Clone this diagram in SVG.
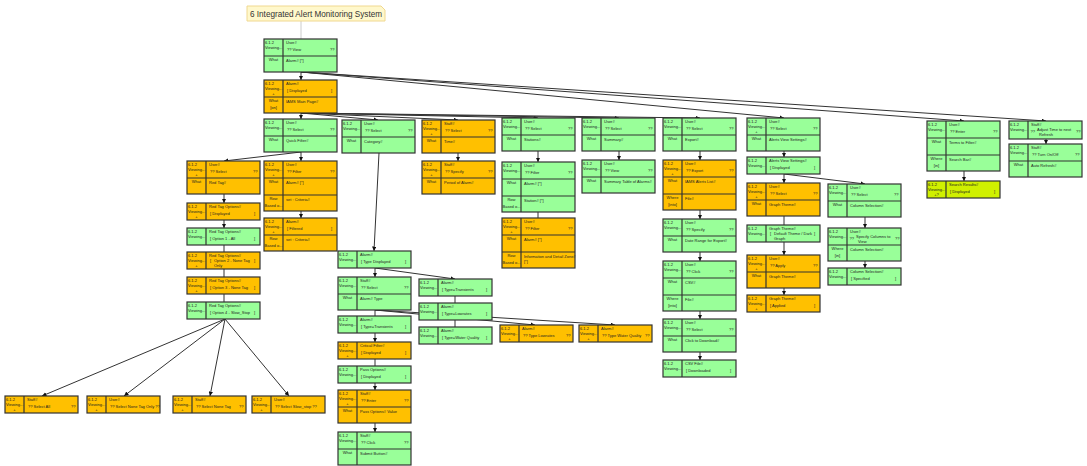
<svg xmlns="http://www.w3.org/2000/svg" xmlns:xlink="http://www.w3.org/1999/xlink" width="1087" height="466" viewBox="0 0 1087 466">
<style>
.t{font-family:"Liberation Sans",Arial,sans-serif;font-size:4px;fill:#222}
.c{text-anchor:middle}
.e{fill:none;stroke:#333;stroke-width:1}
.ea{fill:none;stroke:#333;stroke-width:1;marker-end:url(#a)}
.g{fill:#99ff99}
.o{fill:#ffc000}
.y{fill:#d0f000}
.fr{stroke:#333;stroke-width:1.2}
</style>
<defs>
<marker id="a" viewBox="0 0 6 6" refX="6" refY="3" markerWidth="4.5" markerHeight="4.5" orient="auto"><path d="M0,0L6,3L0,6z" fill="#111"/></marker>
<g id="f1"><rect class="fr" width="73" height="17"/><line class="fr" x1="19" y1="0" x2="19" y2="17"/></g>
<g id="f1b"><rect class="fr" width="73" height="18"/><line class="fr" x1="19" y1="0" x2="19" y2="18"/></g>
<g id="f2"><rect class="fr" width="73" height="33"/><line class="fr" x1="19" y1="0" x2="19" y2="33"/><line class="fr" x1="0" y1="17" x2="73" y2="17"/></g>
<g id="f3"><rect class="fr" width="73" height="50"/><line class="fr" x1="19" y1="0" x2="19" y2="50"/><line class="fr" x1="0" y1="17" x2="73" y2="17"/><line class="fr" x1="0" y1="34" x2="73" y2="34"/></g>
<g id="L"><text class="t" x="1" y="5">6.1.2</text><text class="t" x="1" y="10">Viewing...</text></g>
<g id="P"><text class="t c" x="9.5" y="15">+</text></g>
<g id="W"><text class="t c" x="9.5" y="22">What</text></g>
</defs>

<g id="connectors">
<line x1="301" y1="21" x2="301" y2="39" stroke="#ccc" stroke-width="1"/>
<line class="ea" x1="301" y1="71" x2="301" y2="80"/>
<line class="ea" x1="301" y1="72" x2="784" y2="118"/>
<line class="ea" x1="301" y1="72" x2="964" y2="121"/>
<line class="ea" x1="301" y1="72" x2="1046" y2="121"/>
<line class="ea" x1="301" y1="113" x2="301" y2="119"/>
<line class="ea" x1="301" y1="113" x2="378" y2="120"/>
<line class="ea" x1="301" y1="113" x2="458" y2="120"/>
<line class="ea" x1="301" y1="113" x2="538" y2="118"/>
<line class="ea" x1="301" y1="113" x2="619" y2="118"/>
<line class="ea" x1="301" y1="113" x2="700" y2="118"/>
<line class="ea" x1="301" y1="152" x2="224" y2="161"/>
<line class="ea" x1="301" y1="152" x2="301" y2="161"/>
<line class="ea" x1="224" y1="194" x2="224" y2="203"/>
<line class="ea" x1="224" y1="220" x2="224" y2="228"/>
<line class="e" x1="224" y1="245" x2="224" y2="252"/>
<line class="e" x1="224" y1="269" x2="224" y2="277"/>
<line class="e" x1="224" y1="294" x2="224" y2="302"/>
<line class="ea" x1="225" y1="319" x2="42" y2="396"/>
<line class="ea" x1="225" y1="319" x2="124" y2="396"/>
<line class="ea" x1="225" y1="319" x2="210" y2="396"/>
<line class="ea" x1="225" y1="319" x2="289" y2="396"/>
<line class="ea" x1="301" y1="211" x2="301" y2="218"/>
<line class="ea" x1="379" y1="153" x2="374" y2="251"/>
<line class="ea" x1="458" y1="153" x2="458" y2="161"/>
<line class="ea" x1="538" y1="151" x2="538" y2="162"/>
<line class="e" x1="538" y1="212" x2="538" y2="218"/>
<line class="ea" x1="619" y1="151" x2="619" y2="160"/>
<line class="ea" x1="700" y1="151" x2="700" y2="160"/>
<line class="ea" x1="700" y1="210" x2="700" y2="219"/>
<line class="ea" x1="700" y1="252" x2="700" y2="261"/>
<line class="ea" x1="700" y1="311" x2="700" y2="319"/>
<line class="ea" x1="700" y1="352" x2="700" y2="360"/>
<line class="ea" x1="784" y1="151" x2="784" y2="157"/>
<line class="ea" x1="784" y1="174" x2="784" y2="183"/>
<line class="ea" x1="784" y1="174" x2="865" y2="184"/>
<line class="e" x1="784" y1="216" x2="784" y2="225"/>
<line class="ea" x1="784" y1="242" x2="784" y2="255"/>
<line class="ea" x1="784" y1="288" x2="784" y2="295"/>
<line class="ea" x1="865" y1="217" x2="865" y2="228"/>
<line class="ea" x1="865" y1="261" x2="865" y2="268"/>
<line class="ea" x1="964" y1="171" x2="964" y2="181"/>
<line class="ea" x1="1046" y1="139" x2="1046" y2="144"/>
<line class="ea" x1="375" y1="268" x2="375" y2="277"/>
<line class="ea" x1="375" y1="268" x2="455" y2="279"/>
<line class="e" x1="455" y1="296" x2="455" y2="303"/>
<line class="e" x1="455" y1="320" x2="455" y2="327"/>
<line class="e" x1="375" y1="310" x2="375" y2="316"/>
<line class="ea" x1="375" y1="310" x2="535" y2="325"/>
<line class="ea" x1="375" y1="310" x2="615" y2="325"/>
<line class="ea" x1="375" y1="333" x2="375" y2="342"/>
<line class="e" x1="375" y1="359" x2="375" y2="366"/>
<line class="ea" x1="375" y1="383" x2="375" y2="390"/>
<line class="ea" x1="375" y1="423" x2="375" y2="432"/>
</g>

<g id="title">
<path d="M247,6H381L385,10V21H247Z" fill="#fff8cc" stroke="#f0d890" stroke-width="1"/>
<text x="250" y="17" font-family="Liberation Sans,Arial,sans-serif" font-size="9" fill="#333" textLength="132" lengthAdjust="spacingAndGlyphs">6 Integrated Alert Monitoring System</text>
</g>

<g id="n1" transform="translate(264,39)"><use href="#f2" class="g"/><use href="#L"/><text class="t" x="22" y="5">User#</text><text class="t" x="23" y="12">?? View</text><text class="t" x="66" y="12">??</text><use href="#W"/><text class="t" x="22" y="23">Alarm# [*]</text></g>
<g id="n2" transform="translate(264,80)"><use href="#f2" class="o"/><use href="#L"/><use href="#P"/><text class="t" x="22" y="5">Alarm#</text><text class="t" x="23" y="12">[ Displayed</text><text class="t" x="67" y="12">]</text><use href="#W"/><text class="t c" x="9.5" y="29">[on]</text><text class="t" x="22" y="23">IAMS Main Page#</text></g>
<g id="qf" transform="translate(264,119)"><use href="#f2" class="g"/><use href="#L"/><text class="t" x="22" y="5">User#</text><text class="t" x="23" y="12">?? Select</text><text class="t" x="66" y="12">??</text><use href="#W"/><text class="t" x="22" y="23">Quick Filter#</text></g>
<g id="cat" transform="translate(342,120)"><use href="#f2" class="g"/><use href="#L"/><text class="t" x="22" y="5">User#</text><text class="t" x="23" y="12">?? Select</text><text class="t" x="66" y="12">??</text><use href="#W"/><text class="t" x="22" y="23">Category#</text></g>
<g id="time" transform="translate(422,120)"><use href="#f2" class="o"/><use href="#L"/><use href="#P"/><text class="t" x="22" y="5">Staff#</text><text class="t" x="23" y="12">?? Select</text><text class="t" x="66" y="12">??</text><use href="#W"/><text class="t" x="22" y="23">Time#</text></g>
<g id="st" transform="translate(502,118)"><use href="#f2" class="g"/><use href="#L"/><text class="t" x="22" y="5">User#</text><text class="t" x="23" y="12">?? Select</text><text class="t" x="66" y="12">??</text><use href="#W"/><text class="t" x="22" y="23">Stations#</text></g>
<g id="sum" transform="translate(582,118)"><use href="#f2" class="g"/><use href="#L"/><text class="t" x="22" y="5">User#</text><text class="t" x="23" y="12">?? Select</text><text class="t" x="66" y="12">??</text><use href="#W"/><text class="t" x="22" y="23">Summary#</text></g>
<g id="exp" transform="translate(663,118)"><use href="#f2" class="g"/><use href="#L"/><text class="t" x="22" y="5">User#</text><text class="t" x="23" y="12">?? Select</text><text class="t" x="66" y="12">??</text><use href="#W"/><text class="t" x="22" y="23">Export#</text></g>
<g id="avs" transform="translate(747,118)"><use href="#f2" class="g"/><use href="#L"/><use href="#P"/><text class="t" x="22" y="5">User#</text><text class="t" x="23" y="12">?? Select</text><text class="t" x="66" y="12">??</text><use href="#W"/><text class="t" x="22" y="23">Alerts View Settings#</text></g>
<g id="ent" transform="translate(927,121)"><use href="#f3" class="g"/><use href="#L"/><text class="t" x="22" y="5">User#</text><text class="t" x="23" y="12">?? Enter</text><text class="t" x="66" y="12">??</text><use href="#W"/><text class="t" x="22" y="23">Terms to Filter#</text><text class="t c" x="9.5" y="39">Where</text><text class="t c" x="9.5" y="46">[in]</text><text class="t" x="22" y="40">Search Bar#</text></g>
<g id="adj" transform="translate(1009,121)"><use href="#f1b" class="g"/><use href="#L"/><text class="t" x="22" y="5">Staff#</text><text class="t" x="21.5" y="12">??</text><text class="t" x="28" y="10">Adjust Time to next</text><text class="t" x="30" y="15">Refresh</text><text class="t" x="67" y="12">??</text></g>
<g id="turn" transform="translate(1009,144)"><use href="#f2" class="g"/><use href="#L"/><text class="t" x="22" y="5">Staff#</text><text class="t" x="23" y="12">?? Turn On/Off</text><text class="t" x="66" y="12">??</text><use href="#W"/><text class="t" x="22" y="23">Auto Refresh#</text></g>
<g id="sr" transform="translate(927,181)"><use href="#f1" class="y"/><use href="#L"/><text class="t c" x="9.5" y="15">+?</text><text class="t" x="22" y="5">Search Results#</text><text class="t" x="23" y="12">[ Displayed</text><text class="t" x="67" y="12">]</text></g>
<g id="rt" transform="translate(187,161)"><use href="#f2" class="o"/><use href="#L"/><use href="#P"/><text class="t" x="22" y="5">User#</text><text class="t" x="23" y="12">?? Select</text><text class="t" x="66" y="12">??</text><use href="#W"/><text class="t" x="22" y="23">Red Tag#</text></g>
<g id="fqf" transform="translate(264,161)"><use href="#f3" class="o"/><use href="#L"/><use href="#P"/><text class="t" x="22" y="5">User#</text><text class="t" x="23" y="12">?? Filter</text><text class="t" x="66" y="12">??</text><use href="#W"/><text class="t" x="22" y="23">Alarm# [*]</text><text class="t c" x="9.5" y="39">Row</text><text class="t c" x="9.5" y="46">Based o...</text><text class="t" x="22" y="40">set : Criteria#</text></g>
<g id="fd" transform="translate(264,218)"><use href="#f2" class="o"/><use href="#L"/><use href="#P"/><text class="t" x="22" y="5">Alarm#</text><text class="t" x="23" y="12">[ Filtered</text><text class="t" x="67" y="12">]</text><text class="t c" x="9.5" y="22">Row</text><text class="t c" x="9.5" y="29">Based o...</text><text class="t" x="22" y="23">set : Criteria#</text></g>
<g id="rto" transform="translate(187,203)"><use href="#f1" class="o"/><use href="#L"/><use href="#P"/><text class="t" x="22" y="5">Red Tag Options#</text><text class="t" x="23" y="12">[ Displayed</text><text class="t" x="67" y="12">]</text></g>
<g id="o1" transform="translate(187,228)"><use href="#f1" class="g"/><use href="#L"/><text class="t" x="22" y="5">Red Tag Options#</text><text class="t" x="23" y="12">[ Option 1 - All</text><text class="t" x="67" y="12">]</text></g>
<g id="o2" transform="translate(187,252)"><use href="#f1" class="o"/><use href="#L"/><use href="#P"/><text class="t" x="22" y="5">Red Tag Options#</text><text class="t" x="23" y="10">[</text><text class="t" x="27" y="10">Option 2 - None Tag</text><text class="t" x="27" y="15">Only</text><text class="t" x="67" y="10">]</text></g>
<g id="o3" transform="translate(187,277)"><use href="#f1" class="o"/><use href="#L"/><use href="#P"/><text class="t" x="22" y="5">Red Tag Options#</text><text class="t" x="23" y="12">[ Option 3 - None Tag</text><text class="t" x="67" y="12">]</text></g>
<g id="o4" transform="translate(187,302)"><use href="#f1" class="g"/><use href="#L"/><text class="t" x="22" y="5">Red Tag Options#</text><text class="t" x="23" y="12">[ Option 4 - Slow_Stop</text><text class="t" x="67" y="12">]</text></g>
<g id="b1" transform="translate(5,396)"><use href="#f1" class="o"/><use href="#L"/><use href="#P"/><text class="t" x="22" y="5">Staff#</text><text class="t" x="23" y="12">?? Select All</text><text class="t" x="66" y="12">??</text></g>
<g id="b2" transform="translate(87,396)"><use href="#f1" class="o"/><use href="#L"/><use href="#P"/><text class="t" x="22" y="5">User#</text><text class="t" x="23" y="12">?? Select None Tag Only ??</text></g>
<g id="b3" transform="translate(173,396)"><use href="#f1" class="o"/><use href="#L"/><use href="#P"/><text class="t" x="22" y="5">Staff#</text><text class="t" x="23" y="12">?? Select None Tag</text><text class="t" x="66" y="12">??</text></g>
<g id="b4" transform="translate(252,396)"><use href="#f1" class="o"/><use href="#L"/><use href="#P"/><text class="t" x="22" y="5">User#</text><text class="t" x="23" y="12">?? Select Slow_stop ??</text></g>
<g id="sp" transform="translate(422,161)"><use href="#f2" class="o"/><use href="#L"/><use href="#P"/><text class="t" x="22" y="5">Staff#</text><text class="t" x="23" y="12">?? Specify</text><text class="t" x="66" y="12">??</text><use href="#W"/><text class="t" x="22" y="23">Period of Alarm#</text></g>
<g id="fs" transform="translate(502,162)"><use href="#f3" class="g"/><use href="#L"/><text class="t" x="22" y="5">User#</text><text class="t" x="23" y="12">?? Filter</text><text class="t" x="66" y="12">??</text><use href="#W"/><text class="t" x="22" y="23">Alarm# [*]</text><text class="t c" x="9.5" y="39">Row</text><text class="t c" x="9.5" y="46">Based o...</text><text class="t" x="22" y="40">Station# [*]</text></g>
<g id="fso" transform="translate(502,218)"><use href="#f3" class="o"/><use href="#L"/><use href="#P"/><text class="t" x="22" y="5">User#</text><text class="t" x="23" y="12">?? Filter</text><text class="t" x="66" y="12">??</text><use href="#W"/><text class="t" x="22" y="23">Alarm# [*]</text><text class="t c" x="9.5" y="39">Row</text><text class="t c" x="9.5" y="46">Based o...</text><text class="t" x="22" y="40">Information and Detail Zone#</text><text class="t" x="22" y="45">[*]</text></g>
<g id="vs" transform="translate(582,160)"><use href="#f2" class="g"/><use href="#L"/><text class="t" x="22" y="5">User#</text><text class="t" x="23" y="12">?? View</text><text class="t" x="66" y="12">??</text><use href="#W"/><text class="t" x="22" y="23">Summary Table of Alarms#</text></g>
<g id="eo" transform="translate(663,160)"><use href="#f3" class="o"/><use href="#L"/><use href="#P"/><text class="t" x="22" y="5">User#</text><text class="t" x="23" y="12">?? Export</text><text class="t" x="66" y="12">??</text><use href="#W"/><text class="t" x="22" y="23">IAMS Alerts List#</text><text class="t c" x="9.5" y="39">Where</text><text class="t c" x="9.5" y="46">[into]</text><text class="t" x="22" y="40">File#</text></g>
<g id="sd" transform="translate(663,219)"><use href="#f2" class="g"/><use href="#L"/><text class="t" x="22" y="5">User#</text><text class="t" x="23" y="12">?? Specify</text><text class="t" x="66" y="12">??</text><use href="#W"/><text class="t" x="22" y="23">Date Range for Export#</text></g>
<g id="cl" transform="translate(663,261)"><use href="#f3" class="g"/><use href="#L"/><text class="t" x="22" y="5">User#</text><text class="t" x="23" y="12">?? Click</text><text class="t" x="66" y="12">??</text><use href="#W"/><text class="t" x="22" y="23">CSV#</text><text class="t c" x="9.5" y="39">Where</text><text class="t c" x="9.5" y="46">[into]</text><text class="t" x="22" y="40">File#</text></g>
<g id="sel" transform="translate(663,319)"><use href="#f2" class="g"/><use href="#L"/><text class="t" x="22" y="5">User#</text><text class="t" x="23" y="12">?? Select</text><text class="t" x="66" y="12">??</text><use href="#W"/><text class="t" x="22" y="23">Click to Download#</text></g>
<g id="csv" transform="translate(663,360)"><use href="#f1" class="g"/><use href="#L"/><text class="t" x="22" y="5">CSV File#</text><text class="t" x="23" y="12">[ Downloaded</text><text class="t" x="67" y="12">]</text></g>
<g id="avd" transform="translate(747,157)"><use href="#f1" class="g"/><use href="#L"/><text class="t" x="22" y="5">Alerts View Settings#</text><text class="t" x="23" y="12">[ Displayed</text><text class="t" x="67" y="12">]</text></g>
<g id="gs" transform="translate(747,183)"><use href="#f2" class="o"/><use href="#L"/><use href="#P"/><text class="t" x="22" y="5">User#</text><text class="t" x="23" y="12">?? Select</text><text class="t" x="66" y="12">??</text><use href="#W"/><text class="t" x="22" y="23">Graph Theme#</text></g>
<g id="cs" transform="translate(828,184)"><use href="#f2" class="g"/><use href="#L"/><text class="t" x="22" y="5">User#</text><text class="t" x="23" y="12">?? Select</text><text class="t" x="66" y="12">??</text><use href="#W"/><text class="t" x="22" y="23">Column Selection#</text></g>
<g id="gd" transform="translate(747,225)"><use href="#f1" class="g"/><use href="#L"/><text class="t" x="22" y="4.5">Graph Theme#</text><text class="t" x="23" y="10">[</text><text class="t" x="27" y="10">Default Theme / Dark</text><text class="t" x="27" y="15">Graph</text><text class="t" x="67" y="10">]</text></g>
<g id="sc" transform="translate(828,228)"><use href="#f2" class="g"/><use href="#L"/><text class="t" x="22" y="5">User#</text><text class="t" x="21.5" y="12">??</text><text class="t" x="28" y="10">Specify Columns to</text><text class="t" x="30" y="15">View</text><text class="t" x="67" y="12">??</text><text class="t c" x="9.5" y="22">Where</text><text class="t c" x="9.5" y="29">[in]</text><text class="t" x="22" y="23">Column Selection#</text></g>
<g id="csp" transform="translate(828,268)"><use href="#f1" class="g"/><use href="#L"/><text class="t" x="22" y="5">Column Selection#</text><text class="t" x="23" y="12">[ Specified</text><text class="t" x="67" y="12">]</text></g>
<g id="ap" transform="translate(747,255)"><use href="#f2" class="o"/><use href="#L"/><use href="#P"/><text class="t" x="22" y="5">User#</text><text class="t" x="23" y="12">?? Apply</text><text class="t" x="66" y="12">??</text><use href="#W"/><text class="t" x="22" y="23">Graph Theme#</text></g>
<g id="apd" transform="translate(747,295)"><use href="#f1" class="o"/><use href="#L"/><use href="#P"/><text class="t" x="22" y="5">Graph Theme#</text><text class="t" x="23" y="12">[ Applied</text><text class="t" x="67" y="12">]</text></g>
<g id="td" transform="translate(338,251)"><use href="#f1" class="g"/><use href="#L"/><text class="t" x="22" y="5">Alarm#</text><text class="t" x="23" y="12">[ Type Displayed</text><text class="t" x="67" y="12">]</text></g>
<g id="stp" transform="translate(338,277)"><use href="#f2" class="g"/><use href="#L"/><text class="t" x="22" y="5">Staff#</text><text class="t" x="23" y="12">?? Select</text><text class="t" x="66" y="12">??</text><use href="#W"/><text class="t" x="22" y="23">Alarm# Type</text></g>
<g id="ttr" transform="translate(419,279)"><use href="#f1" class="g"/><use href="#L"/><text class="t" x="22" y="5">Alarm#</text><text class="t" x="23" y="12">[ Type=Transients</text><text class="t" x="67" y="12">]</text></g>
<g id="tlr" transform="translate(419,303)"><use href="#f1" class="g"/><use href="#L"/><text class="t" x="22" y="5">Alarm#</text><text class="t" x="23" y="12">[ Type=Lowrates</text><text class="t" x="67" y="12">]</text></g>
<g id="twr" transform="translate(419,327)"><use href="#f1" class="g"/><use href="#L"/><text class="t" x="22" y="5">Alarm#</text><text class="t" x="23" y="12">[ Type=Water Quality</text><text class="t" x="67" y="12">]</text></g>
<g id="ttl" transform="translate(338,316)"><use href="#f1" class="g"/><use href="#L"/><text class="t" x="22" y="5">Alarm#</text><text class="t" x="23" y="12">[ Type=Transients</text><text class="t" x="67" y="12">]</text></g>
<g id="lo" transform="translate(500,325)"><use href="#f1" class="o"/><use href="#L"/><use href="#P"/><text class="t" x="22" y="5">Alarm#</text><text class="t" x="23" y="12">?? Type Lowrates</text><text class="t" x="66" y="12">??</text></g>
<g id="wo" transform="translate(579,325)"><use href="#f1" class="o"/><use href="#L"/><use href="#P"/><text class="t" x="22" y="5">Alarm#</text><text class="t" x="23" y="12">?? Type Water Quality</text><text class="t" x="66" y="12">??</text></g>
<g id="cf" transform="translate(338,342)"><use href="#f1" class="o"/><use href="#L"/><use href="#P"/><text class="t" x="22" y="5">Critical Filter#</text><text class="t" x="23" y="12">[ Displayed</text><text class="t" x="67" y="12">]</text></g>
<g id="po" transform="translate(338,366)"><use href="#f1" class="g"/><use href="#L"/><text class="t" x="22" y="5">Pass Options#</text><text class="t" x="23" y="12">[ Displayed</text><text class="t" x="67" y="12">]</text></g>
<g id="ep" transform="translate(338,390)"><use href="#f2" class="o"/><use href="#L"/><use href="#P"/><text class="t" x="22" y="5">Staff#</text><text class="t" x="23" y="12">?? Enter</text><text class="t" x="66" y="12">??</text><use href="#W"/><text class="t" x="22" y="23">Pass Options# Value</text></g>
<g id="cs2" transform="translate(338,432)"><use href="#f2" class="g"/><use href="#L"/><text class="t" x="22" y="5">Staff#</text><text class="t" x="23" y="12">?? Click</text><text class="t" x="66" y="12">??</text><use href="#W"/><text class="t" x="22" y="23">Submit Button#</text></g>
</svg>
